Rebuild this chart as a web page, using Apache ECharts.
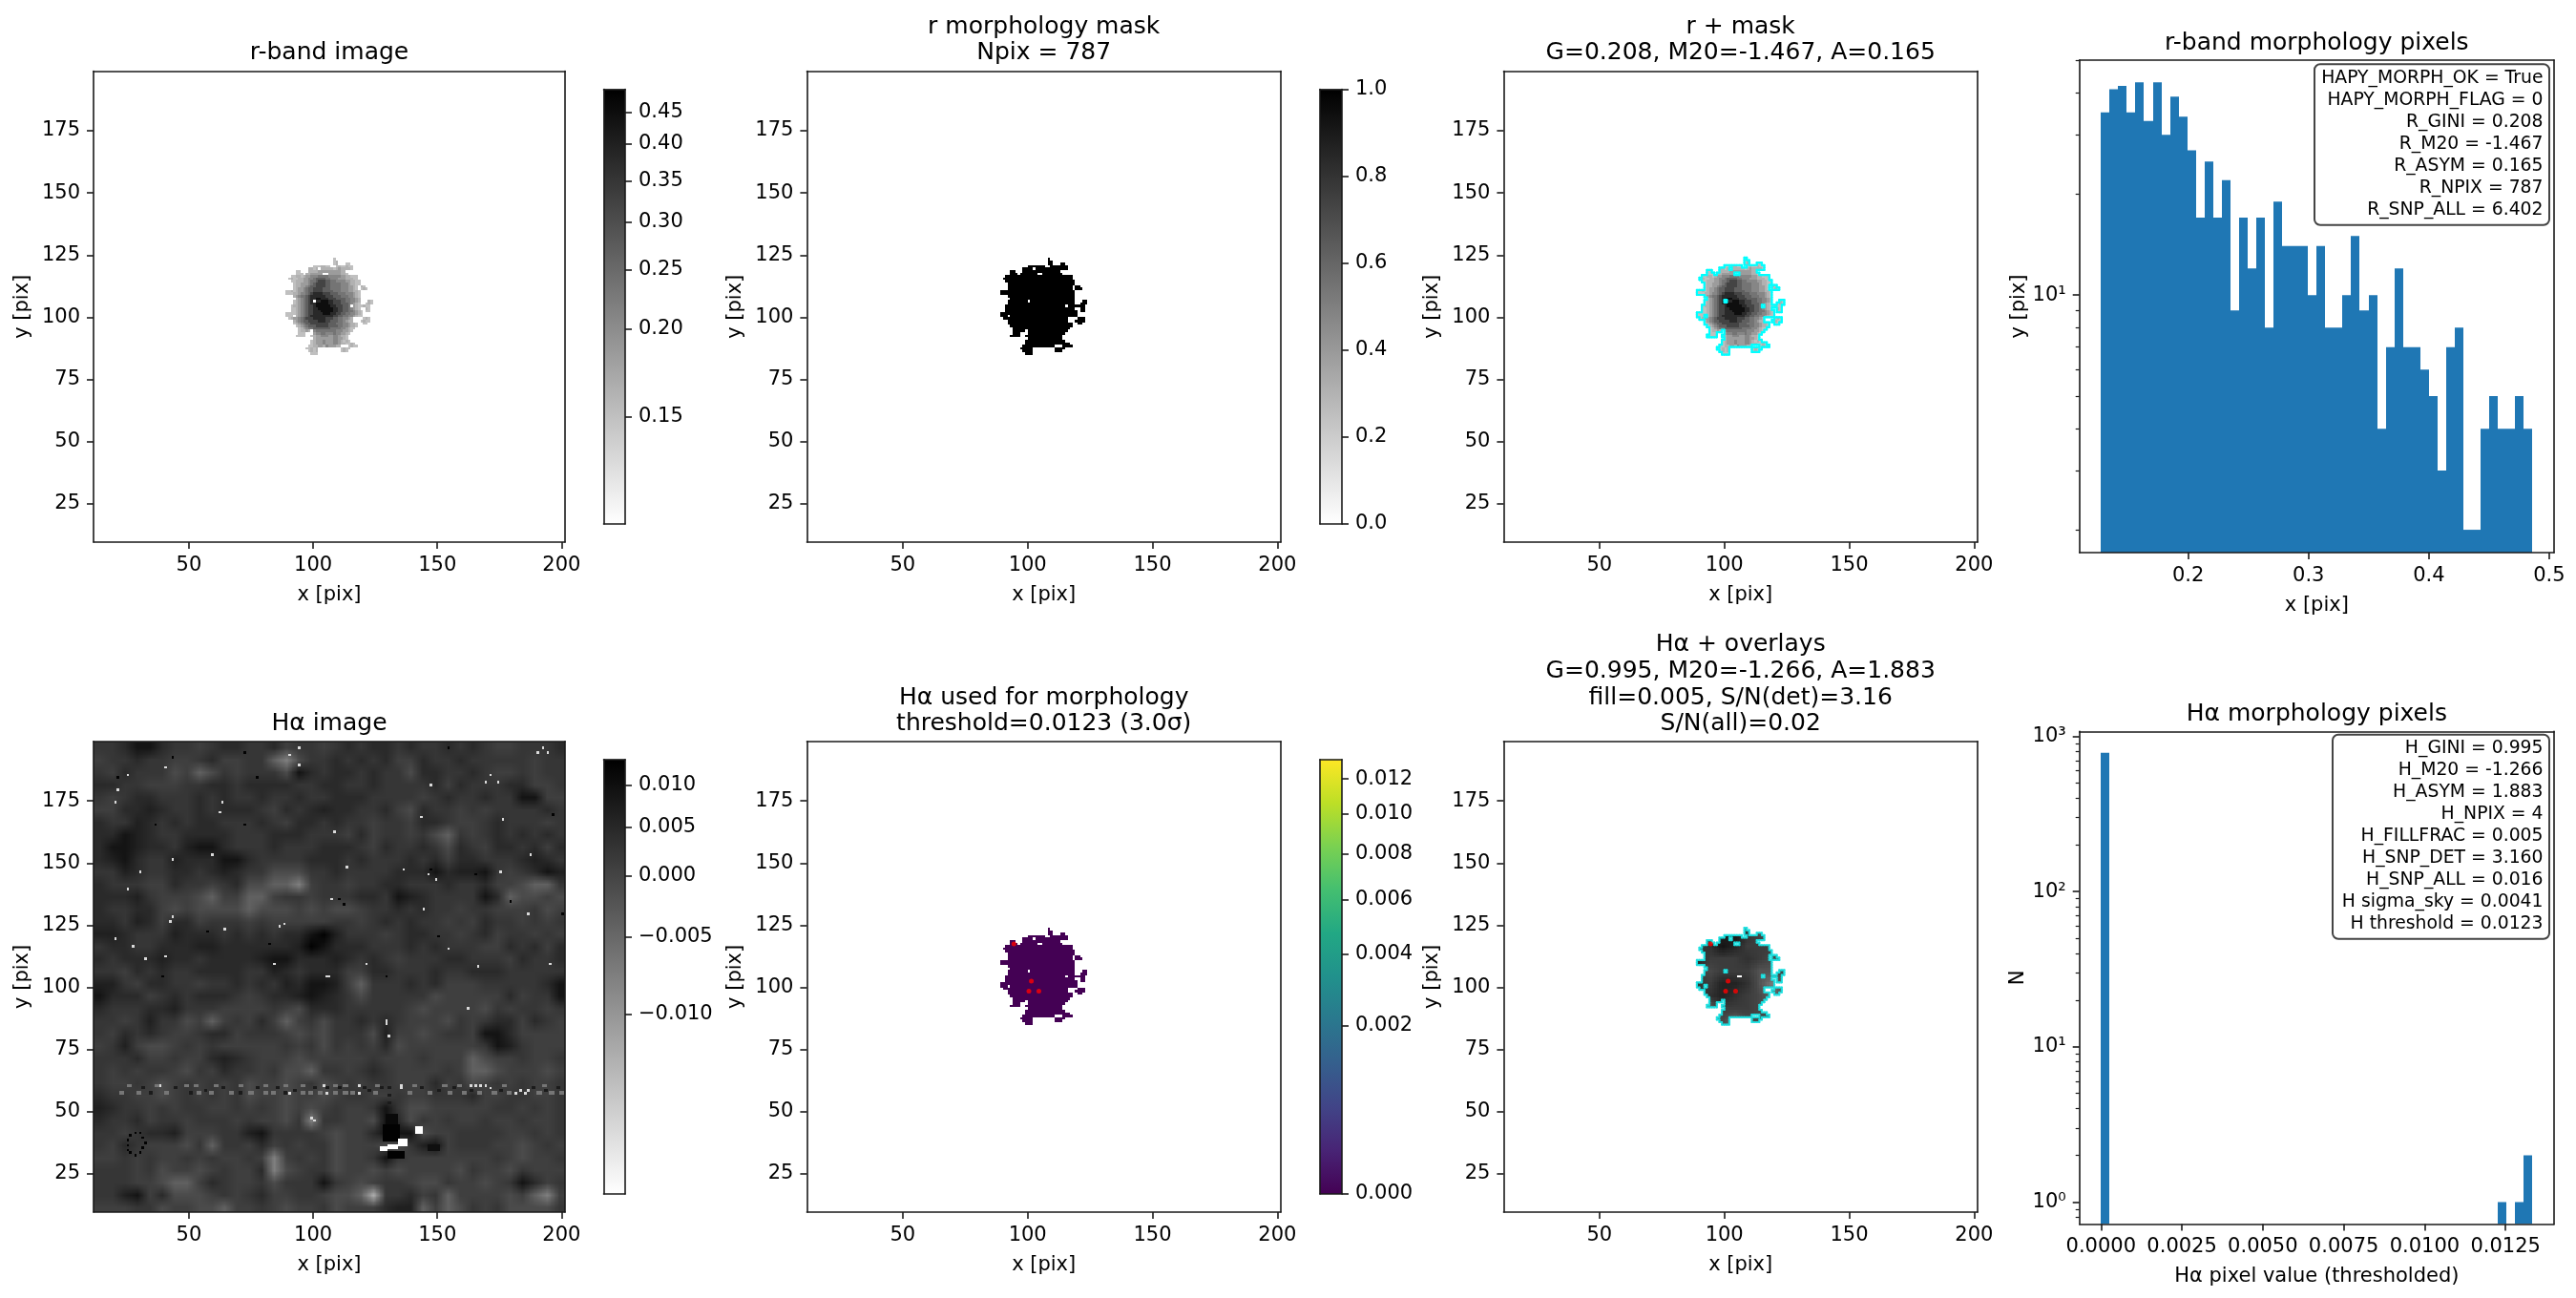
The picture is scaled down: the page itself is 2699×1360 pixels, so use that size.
<!DOCTYPE html>
<html>
<head>
<meta charset="utf-8">
<script src="https://cdn.jsdelivr.net/npm/echarts@6/dist/echarts.min.js"></script>
<style>html,body{margin:0;padding:0;background:#fff}#c{width:2699px;height:1360px}</style>
</head>
<body>
<div id="c"></div>
<script>
// ---------- tick labels ----------
const imgXTicks = [50, 100, 150, 200];
const imgYTicks = [25, 50, 75, 100, 125, 150, 175];
const rCbarLabels = ['0.15', '0.20', '0.25', '0.30', '0.35', '0.40', '0.45'];
const rCbarValues = [0.15, 0.20, 0.25, 0.30, 0.35, 0.40, 0.45];
const rCbarPos = [0.246, 0.448, 0.584, 0.694, 0.789, 0.874, 0.947];
const maskCbarTicks = [0, 0.2, 0.4, 0.6, 0.8, 1.0];
const hCbarLabels = ['\u22120.010', '\u22120.005', '0.000', '0.005', '0.010'];
const hCbarValues = [-0.010, -0.005, 0, 0.005, 0.010];
const hCbarPos = [0.414, 0.592, 0.732, 0.845, 0.94];
const hUsedLabels = ['0.000', '0.002', '0.004', '0.006', '0.008', '0.010', '0.012'];
const hUsedPos = [0, 0.388, 0.552, 0.677, 0.783, 0.875, 0.955];
const viridisStops = ['#440154', '#482475', '#414487', '#355f8d', '#2a788e', '#21918c', '#22a884', '#44bf70', '#7ad151', '#bddf26', '#fde725'];

// ---------- histograms ----------
const rHistStart = 0.1275, rHistBin = 0.00717;
const rHistCounts = [35, 41, 42, 35, 43, 33, 43, 30, 39, 34, 27, 17, 25, 17, 22, 9, 17, 12, 17, 8, 19, 14, 14, 14, 10, 14, 8, 8, 10, 15, 9, 10, 4, 7, 12, 7, 7, 6, 5, 3, 7, 8, 2, 2, 4, 5, 4, 4, 5, 4];
const hHistStart = 0, hHistBin = 0.0002666;
const hHistCounts = [783, 0, 0, 0, 0, 0, 0, 0, 0, 0, 0, 0, 0, 0, 0, 0, 0, 0, 0, 0, 0, 0, 0, 0, 0, 0, 0, 0, 0, 0, 0, 0, 0, 0, 0, 0, 0, 0, 0, 0, 0, 0, 0, 0, 0, 0, 1, 0, 1, 2];

// ---------- r-band pixels: top row y=123, first column x=86; digit = brightness level ----------
const rLevelValues = [0, 0.15, 0.165, 0.185, 0.21, 0.235, 0.27, 0.32, 0.38, 0.45];
const rRows = [
"......................1",
"......................12",
"......................12...11",
"..............1112211..1211211",
"............2212.2222212322221",
".......11...222233333333322",
".......111.2233333..33333221",
".....112212334445555444443322111",
"....1211223344566665544433322211",
".....1122233455677766554444332211",
"......122333456777766555544432211",
"......12233456677776655554443321.21",
"......12334566777766655554443321.121",
"...112123345667777666655544433221",
"...111223445678888777666555444321",
"......234556788888877766655544321",
".......23456788998887776666554432",
"......12345678.889998877766554432...21",
"......123456788999998877766654321..121",
".....122345677899999988777665.3211211",
".....1123456778899999988776654321..21",
".....11234567788899999887766554321.11",
"...1111234567788889998877665544321",
"...111.234567888888888776655443211",
"....12334567778888877766554432....121",
"......234566777788877666554322...1211",
"......12345667777777666555443221..11",
".......1234566677777666655443221",
"........12345566666665555443211",
"........12232.4555555554443321",
"........111...344554445443321",
".......1111..123344433443221",
"..............23333333443321",
".............1233343334432121",
".............123334333443221121",
"............1122332433322...1211",
"...........11212.........1211",
"............1212.........121",
".............111"
];
const redPixels = [[94, 118], [101, 103], [100, 99], [104, 99]];

// ---------- H-alpha picture, read on a 5-pixel lattice from top-left; 0 = darkest, 9 = lightest ----------
const hLevelValues = [0.012, 0.009, 0.0065, 0.0045, 0.0025, 0.001, -0.001, -0.004, -0.0075, -0.0105];
const hRows = [
"44311344543344354454343343443434554443",
"54434455435544786443434355344344444544",
"45344465764544461343343446334434554544",
"33445554433433334433443444435344433554",
"45433444343443443443334444543443441155",
"55332344343334534323344356344545444434",
"34423434334443453343445445334554344454",
"33123443333444333444535445467454343434",
"31123342113444344433345344346345334353",
"32134423331134444333434443435334443234",
"44234433432344666443444433313221454312",
"34445534454366778544544334443443556774",
"33324555675577544544433412344441376656",
"34433565666676665656654434344544555465",
"33423533544454555554454343445453445454",
"22344423334343433102444543344543544545",
"43344333223333332013334443434445534353",
"34333233433332113332343454443344453443",
"44534344333344234333553344434433344444",
"22453344544343423112574443435554444431",
"13335434333454332123464444465555535441",
"34443324445555456333444445655556454454",
"44542446575453575464434345556454335345",
"45343455433544456564446255654451135555",
"54256654545555545464545365555554124555",
"44435545532345556555554555455576554554",
"45454456453445466744543455554577655565",
"45545654545465565465454455535465454554",
"34455654545465565565445545544435544554",
"23445454455454565654554146655555445454",
"34435445444545564844556136454554554554",
"44543325554421444456553111655444455454",
"45345556474453545446555664215444556545",
"55454554545545854546554145555555456554",
"44454655654553865446556565555645564555",
"44455677534554644414565445664556541354",
"44215366654543554456679443547555565785",
"55544655667554565546555322757645466664"
];
const hBrightSpecks = [[94,196],[94,189],[25,185],[20,174],[21,179],[63,174],[62,170],[40,188],[90,193],[147,181],[143,168],[176,167],[59,153],[43,151],[30,146],[25,139],[108,162],[113,148],[136,147],[144,131],[186,129],[154,115],[166,108],[195,109],[64,123],[86,124],[88,125],[42,126],[43,128],[27,116],[40,112],[20,119],[32,111],[121,109],[84,109],[105,104],[106,104],[175,146],[187,153],[192,196],[190,194],[194,194],[171,185],[169,182],[174,182],[146,145],[149,143],[107,135],[162,91],[129,86],[129,85],[130,80],[135,60],[135,59],[163,60],[165,60],[167,60],[169,60],[171,59],[181,57],[183,58],[185,57],[186,58],[100,46],[99,47],[38,60],[118,60],[104,60],[90,57],[105,57],[118,57]];
const hDarkSpecks = [[43,192],[72,194],[154,196],[77,184],[21,184],[196,169],[72,165],[36,165],[112,133],[110,135],[82,117],[57,122],[150,120],[200,129],[147,147],[165,145],[129,104],[39,104],[179,134],[25,38],[25,36],[25,34],[26,40],[28,41],[30,41],[31,39],[32,37],[31,35],[30,33],[28,32],[26,33]];
const hStreakLight = [[25,60],[36,60],[48,60],[52,60],[60,60],[70,60],[80,60],[88,60],[95,60],[108,60],[112,60],[125,60],[140,60],[152,60],[158,60],[176,60],[192,60],[22,57],[29,57],[40,57],[53,57],[58,57],[66,57],[74,57],[80,57],[83,57],[95,57],[98,57],[102,57],[108,57],[112,57],[115,57],[124,57],[138,57],[146,57],[154,57],[160,57],[166,57],[172,57],[178,57],[190,57],[195,57],[199,57]];
const hStreakDark = [[31,59],[44,59],[56,58],[63,59],[77,59],[85,59],[92,58],[100,59],[110,59],[122,58],[127,59],[130,59],[130,56],[130,53],[143,59],[150,58],[156,59],[163,58],[175,58],[188,59],[193,58],[198,59],[34,57],[50,57],[70,57],[88,57],[105,59],[120,59]];
// [x0, x1, y0, y1, value]
const hFeatures = [
  [128, 135, 38, 45, 0.012], [129, 134, 45, 49, 0.011], [130, 137, 31, 34, 0.012],
  [127, 130, 34, 36, -0.0123], [130, 134, 35, 37, -0.0123], [134, 138, 36, 39, -0.0123],
  [141, 144, 41, 44, -0.0123], [146, 151, 34, 37, 0.010]
];

// ---------- panel text ----------
const rBoxLines = ['HAPY_MORPH_OK = True', 'HAPY_MORPH_FLAG = 0', 'R_GINI = 0.208', 'R_M20 = -1.467', 'R_ASYM = 0.165', 'R_NPIX = 787', 'R_SNP_ALL = 6.402'];
const hBoxLines = ['H_GINI = 0.995', 'H_M20 = -1.266', 'H_ASYM = 1.883', 'H_NPIX = 4', 'H_FILLFRAC = 0.005', 'H_SNP_DET = 3.160', 'H_SNP_ALL = 0.016', 'H sigma_sky = 0.0041', 'H threshold = 0.0123'];

// ---------- colour helpers ----------
function interp(v, xs, ys) {
  if (v <= xs[0]) return ys[0];
  for (let i = 1; i < xs.length; i++) if (v <= xs[i]) return ys[i - 1] + (v - xs[i - 1]) * (ys[i] - ys[i - 1]) / (xs[i] - xs[i - 1]);
  return ys[ys.length - 1];
}
function gray(n) { const g = Math.round(255 * (1 - n)); return 'rgb(' + g + ',' + g + ',' + g + ')'; }
const rColor = v => gray(interp(v, [0.127].concat(rCbarValues, [0.48]), [0].concat(rCbarPos, [1])));
const hColor = v => gray(interp(v, [-0.0123].concat(hCbarValues, [0.0123]), [0].concat(hCbarPos, [1])));

// ---------- pixel tables built from the arrays ----------
const rCells = [];
rRows.forEach((row, r) => {
  for (let c = 0; c < row.length; c++) if (row[c] !== '.') rCells.push([86 + c, 124 - r, +row[c]]);
});
const inMask = {};
rCells.forEach(d => inMask[d[0] + '_' + d[1]] = 1);
const hVal = (r, c) => hLevelValues[+hRows[Math.max(0, Math.min(37, r))][Math.max(0, Math.min(37, c))]];
const hSample = (x, y) => {
  const fr = (199 - y) / 5 - 0.5, fc = (x - 11.7) / 5 - 0.5;
  const r = Math.floor(fr), c = Math.floor(fc), a = fr - r, b = fc - c;
  return (1 - a) * ((1 - b) * hVal(r, c) + b * hVal(r, c + 1)) + a * ((1 - b) * hVal(r + 1, c) + b * hVal(r + 1, c + 1));
};
// lattice picture; the axes place and scale it
const hPicture = document.createElement('canvas');
hPicture.width = 38; hPicture.height = 38;
(function () {
  const g = hPicture.getContext('2d');
  hRows.forEach((row, r) => {
    for (let c = 0; c < row.length; c++) { g.fillStyle = hColor(hLevelValues[+row[c]]); g.fillRect(c, r, 1, 1); }
  });
})();
const hBase = [[11.7, 201.7, 9, 199]];
const hOverlay = [];
hStreakLight.forEach(p => hOverlay.push([p[0], p[0] + 2, p[1], p[1] + 1.2, -0.0065]));
hStreakDark.forEach(p => hOverlay.push([p[0], p[0] + 1.5, p[1], p[1] + 1.2, 0.0075]));
hDarkSpecks.forEach(p => hOverlay.push([p[0], p[0] + 1, p[1], p[1] + 1, 0.012]));
hBrightSpecks.forEach(p => hOverlay.push([p[0], p[0] + 1, p[1], p[1] + 1, -0.0115]));
hFeatures.forEach(f => hOverlay.push(f));

const rImage = rCells.map(d => [d[0], d[0] + 1, d[1] - 1, d[1], rLevelValues[d[2]]]);
const rMask = rCells.map(d => [d[0], d[0] + 1, d[1] - 1, d[1], 1]);
const hMasked = rCells.map(d => [d[0], d[0] + 1, d[1] - 1, d[1], hSample(d[0] + 0.5, d[1] - 0.5) - 0.003]);
hBrightSpecks.concat(hDarkSpecks).forEach((p, i) => {
  if (inMask[p[0] + '_' + (p[1] + 1)]) hMasked.push([p[0], p[0] + 1, p[1], p[1] + 1, i < hBrightSpecks.length ? -0.0123 : 0.012]);
});
const edges = [];
rCells.forEach(d => {
  const x = d[0], y = d[1];
  if (!inMask[(x - 1) + '_' + y]) edges.push([x, y - 1, x, y]);
  if (!inMask[(x + 1) + '_' + y]) edges.push([x + 1, y - 1, x + 1, y]);
  if (!inMask[x + '_' + (y + 1)]) edges.push([x, y, x + 1, y]);
  if (!inMask[x + '_' + (y - 1)]) edges.push([x, y - 1, x + 1, y - 1]);
});

// ---------- layout ----------
const FONT = '"DejaVu Sans"';
const INK = '#1a1a1a';
const R1 = { t: 74.5, b: 568 }, R2 = { t: 776.7, b: 1270 };
const C = [{ l: 98, r: 592 }, { l: 845.4, r: 1342 }, { l: 1575.4, r: 2072 }, { l: 2178.7, r: 2676 }];
const HD1 = { t: 63, b: 579 }, HD2 = { t: 766.4, b: 1282.4 };
const IMGX = [11.6, 201.4], IMGY = [9.6, 199];

const grid = [], xAxis = [], yAxis = [], series = [], title = [], graphic = [];
const lineStyle = { color: INK, width: 1.6 };

function addPanel(box, xo, yo) {
  const g = grid.length;
  grid.push({ left: box.l, top: box.t, width: box.r - box.l, height: box.b - box.t, containLabel: false });
  const xi = xAxis.length, yi = yAxis.length;
  const nameCfg = n => ({ name: n.name || '', nameLocation: 'middle', nameGap: n.gap || 0, nameTextStyle: { color: '#000', fontFamily: FONT, fontSize: 21 } });
  const mk = (o, pos) => Object.assign({
    gridIndex: g, type: o.type || 'value', min: o.min, max: o.max, position: pos, z: 10,
    axisLine: { show: true, onZero: false, lineStyle },
    axisTick: o.ticks ? { show: true, length: 7, customValues: o.ticks, lineStyle } : { show: false },
    axisLabel: o.ticks ? { show: true, margin: 14, customValues: o.ticks, formatter: o.fmt, hideOverlap: false, showMinLabel: true, showMaxLabel: true, color: '#000', fontFamily: FONT, fontSize: 21 } : { show: false },
    splitLine: { show: false }, minorTick: { show: false }, minorSplitLine: { show: false }
  }, nameCfg(o));
  const frame = (o, pos) => ({
    gridIndex: g, type: o.type || 'value', min: o.min, max: o.max, position: pos, z: 10,
    axisLine: { show: true, onZero: false, lineStyle }, axisTick: { show: false }, axisLabel: { show: false }, splitLine: { show: false }
  });
  xAxis.push(mk(xo, 'bottom'), frame(xo, 'top'));
  const yp = yo.side || 'left';
  yAxis.push(mk(yo, yp), frame(yo, yp === 'left' ? 'right' : 'left'));
  if (yo.minor) {
    yAxis.push({
      gridIndex: g, type: yo.type, min: yo.min, max: yo.max, position: 'left', z: 10,
      axisLine: { show: false, onZero: false }, axisLabel: { show: false }, splitLine: { show: false },
      axisTick: { show: true, length: 4, customValues: yo.minor, lineStyle: { color: INK, width: 1.2 } }
    });
  }
  return { xi, yi };
}
function rectRender(colorOf) {
  return function (params, api) {
    const a = api.coord([api.value(0), api.value(3)]), b = api.coord([api.value(1), api.value(2)]);
    const x0 = Math.round(a[0]), y0 = Math.round(a[1]), x1 = Math.round(b[0]), y1 = Math.round(b[1]);
    return {
      type: 'rect',
      shape: { x: x0, y: y0, width: Math.max(1, x1 - x0), height: Math.max(1, y1 - y0) },
      style: { fill: colorOf(api.value(4)) }
    };
  };
}
function addCells(ax, data, colorOf, z) {
  series.push({
    type: 'custom', xAxisIndex: ax.xi, yAxisIndex: ax.yi, data, coordinateSystem: 'cartesian2d',
    renderItem: rectRender(colorOf), clip: true, silent: true, animation: false, z: z || 2,
    encode: { x: [0, 1], y: [2, 3] }
  });
}
function addPicture(ax, data, picture) {
  series.push({
    type: 'custom', xAxisIndex: ax.xi, yAxisIndex: ax.yi, data, clip: true, silent: true, animation: false, z: 1,
    encode: { x: [0, 1], y: [2, 3] },
    renderItem(params, api) {
      const a = api.coord([api.value(0), api.value(3)]), b = api.coord([api.value(1), api.value(2)]);
      return { type: 'image', style: { image: picture, x: a[0], y: a[1], width: b[0] - a[0], height: b[1] - a[1] } };
    }
  });
}
function addContour(ax, color, width, opacity) {
  series.push({
    type: 'custom', xAxisIndex: ax.xi, yAxisIndex: ax.yi, data: edges, clip: true, silent: true, animation: false, z: 3,
    encode: { x: [0, 2], y: [1, 3] },
    renderItem(params, api) {
      const a = api.coord([api.value(0), api.value(1)]), b = api.coord([api.value(2), api.value(3)]);
      return { type: 'line', shape: { x1: a[0], y1: a[1], x2: b[0], y2: b[1] }, style: { stroke: color, lineWidth: width, opacity, lineCap: 'round' } };
    }
  });
}
function addRed(ax, size) {
  series.push({
    type: 'scatter', xAxisIndex: ax.xi, yAxisIndex: ax.yi, data: redPixels.map(p => [p[0] + 0.5, p[1] - 0.5]),
    symbol: 'circle', symbolSize: size, itemStyle: { color: '#ff0000' }, silent: true, animation: false, z: 4
  });
}
function addCbar(box, stops, yo) {
  const ax = addPanel(box, { min: 0, max: 1 }, Object.assign({ side: 'right', min: 0, max: 1 }, yo));
  series.push({
    type: 'custom', xAxisIndex: ax.xi, yAxisIndex: ax.yi, data: [[0, 1, 0, 1]], silent: true, animation: false, z: 2,
    encode: { x: [0, 1], y: [2, 3] },
    renderItem(params, api) {
      const a = api.coord([0, 1]), b = api.coord([1, 0]);
      return {
        type: 'rect', shape: { x: a[0], y: a[1], width: b[0] - a[0], height: b[1] - a[1] },
        style: { fill: { type: 'linear', x: 0, y: 1, x2: 0, y2: 0, colorStops: stops.map((c, i) => ({ offset: i / (stops.length - 1), color: c })) } }
      };
    }
  });
}
const grayStops = ['#ffffff', '#000000'];
function imgAxes(box) {
  return addPanel(box,
    { min: IMGX[0], max: IMGX[1], ticks: imgXTicks, fmt: v => String(v), name: 'x [pix]', gap: 45 },
    { min: IMGY[0], max: IMGY[1], ticks: imgYTicks, fmt: v => String(v), name: 'y [pix]', gap: 64 });
}
function addTitle(text, box, top) {
  title.push({
    text, left: (box.l + box.r) / 2, top, textAlign: 'center', textVerticalAlign: 'bottom', padding: 0,
    textStyle: { color: '#000', fontFamily: FONT, fontSize: 25, fontWeight: 'normal', lineHeight: 27.6 }
  });
}
function panelBox(col, row) { return { l: C[col].l, r: C[col].r, t: row.t, b: row.b }; }
function lookupFmt(positions, labels) {
  return v => { const i = positions.indexOf(v); return i >= 0 ? labels[i] : ''; };
}
function addHist(box, start, bin, counts, xo, yo) {
  const ax = addPanel(box, xo, yo);
  const data = counts.map((n, i) => [start + i * bin, start + (i + 1) * bin, n]).filter(d => d[2] > 0);
  series.push({
    type: 'custom', xAxisIndex: ax.xi, yAxisIndex: ax.yi, data, clip: true, silent: true, animation: false, z: 2,
    encode: { x: [0, 1], y: 2 },
    renderItem(params, api) {
      const a = api.coord([api.value(0), api.value(2)]), b = api.coord([api.value(1), yo.min]);
      const x0 = Math.round(a[0]), x1 = Math.round(b[0]);
      return { type: 'rect', shape: { x: x0, y: a[1], width: x1 - x0, height: b[1] - a[1] }, style: { fill: '#1f77b4' } };
    }
  });
}
function addBox(lines, x0, x1, y0, y1) {
  graphic.push({
    type: 'rect', z: 100, silent: true,
    shape: { x: x0, y: y0, width: x1 - x0, height: y1 - y0, r: 6 },
    style: { fill: 'rgba(255,255,255,0.9)', stroke: '#444', lineWidth: 2 }
  });
  graphic.push({
    type: 'text', z: 101, silent: true, x: x1 - 6.5, y: y0 + 3,
    style: { text: lines.join('\n'), fill: '#000', font: '18.8px ' + FONT, textAlign: 'right', textVerticalAlign: 'top', lineHeight: 23 }
  });
}

// ---------- row 1 ----------
let ax = imgAxes(panelBox(0, R1));
addCells(ax, rImage, rColor);
addCbar({ l: 632.5, r: 655, t: 93.5, b: 549 }, grayStops, { ticks: rCbarPos, fmt: lookupFmt(rCbarPos, rCbarLabels) });
addTitle('r-band image', C[0], 69.5);

ax = imgAxes(panelBox(1, R1));
addCells(ax, rMask, () => '#000');
addCbar({ l: 1383, r: 1406, t: 93.5, b: 549 }, grayStops, { ticks: maskCbarTicks, fmt: v => v.toFixed(1) });
addTitle('r morphology mask\nNpix = 787', C[1], 69.5);

ax = imgAxes(panelBox(2, R1));
addCells(ax, rImage, rColor);
addContour(ax, '#00ffff', 2.2, 1);
addTitle('r + mask\nG=0.208, M20=-1.467, A=0.165', C[2], 69.5);

addHist(panelBox(3, HD1), rHistStart, rHistBin, rHistCounts,
  { min: 0.1096, max: 0.504, ticks: [0.2, 0.3, 0.4, 0.5], fmt: v => v.toFixed(1), name: 'x [pix]', gap: 45 },
  { type: 'log', min: 1.71, max: 50.1, ticks: [10], fmt: () => '10\u00b9', minor: [2, 3, 4, 5, 6, 7, 8, 9, 20, 30, 40, 50], name: 'y [pix]', gap: 52 });
addTitle('r-band morphology pixels', C[3], 59);
addBox(rBoxLines, 2425, 2671, 67.3, 235.7);

// ---------- row 2 ----------
ax = imgAxes(panelBox(0, R2));
addPicture(ax, hBase, hPicture);
addCells(ax, hOverlay, hColor);
addCbar({ l: 632.5, r: 655, t: 795.7, b: 1251 }, grayStops, { ticks: hCbarPos, fmt: lookupFmt(hCbarPos, hCbarLabels) });
addTitle('H\u03b1 image', C[0], 772.5);

ax = imgAxes(panelBox(1, R2));
addCells(ax, rMask, () => '#440154');
addRed(ax, 5);
addCbar({ l: 1383, r: 1406, t: 795.7, b: 1251 }, viridisStops, { ticks: hUsedPos, fmt: lookupFmt(hUsedPos, hUsedLabels) });
addTitle('H\u03b1 used for morphology\nthreshold=0.0123 (3.0\u03c3)', C[1], 772.5);

ax = imgAxes(panelBox(2, R2));
addCells(ax, hMasked, hColor);
addContour(ax, '#19e0e0', 2.2, 0.85);
addRed(ax, 5);
addTitle('H\u03b1 + overlays\nG=0.995, M20=-1.266, A=1.883\nfill=0.005, S/N(det)=3.16\nS/N(all)=0.02', C[2], 772.5);

addHist(panelBox(3, HD2), hHistStart, hHistBin, hHistCounts,
  { min: -0.000667, max: 0.0140, ticks: [0, 0.0025, 0.005, 0.0075, 0.01, 0.0125], fmt: v => v.toFixed(4), name: 'H\u03b1 pixel value (thresholded)', gap: 45 },
  { type: 'log', min: 0.722, max: 1076, ticks: [1, 10, 100, 1000], fmt: v => ({ 1: '10\u2070', 10: '10\u00b9', 100: '10\u00b2', 1000: '10\u00b3' })[Math.round(v)], minor: [0.8, 0.9, 2, 3, 4, 5, 6, 7, 8, 9, 20, 30, 40, 50, 60, 70, 80, 90, 200, 300, 400, 500, 600, 700, 800, 900], name: 'N', gap: 54 });
addTitle('H\u03b1 morphology pixels', C[3], 762);
addBox(hBoxLines, 2444, 2671, 769.8, 983.7);

const chart = echarts.init(document.getElementById('c'), null, { renderer: 'canvas', width: 2699, height: 1360 });
chart.setOption({ animation: false, backgroundColor: '#fff', title, grid, xAxis, yAxis, series, graphic });
</script>
</body>
</html>
